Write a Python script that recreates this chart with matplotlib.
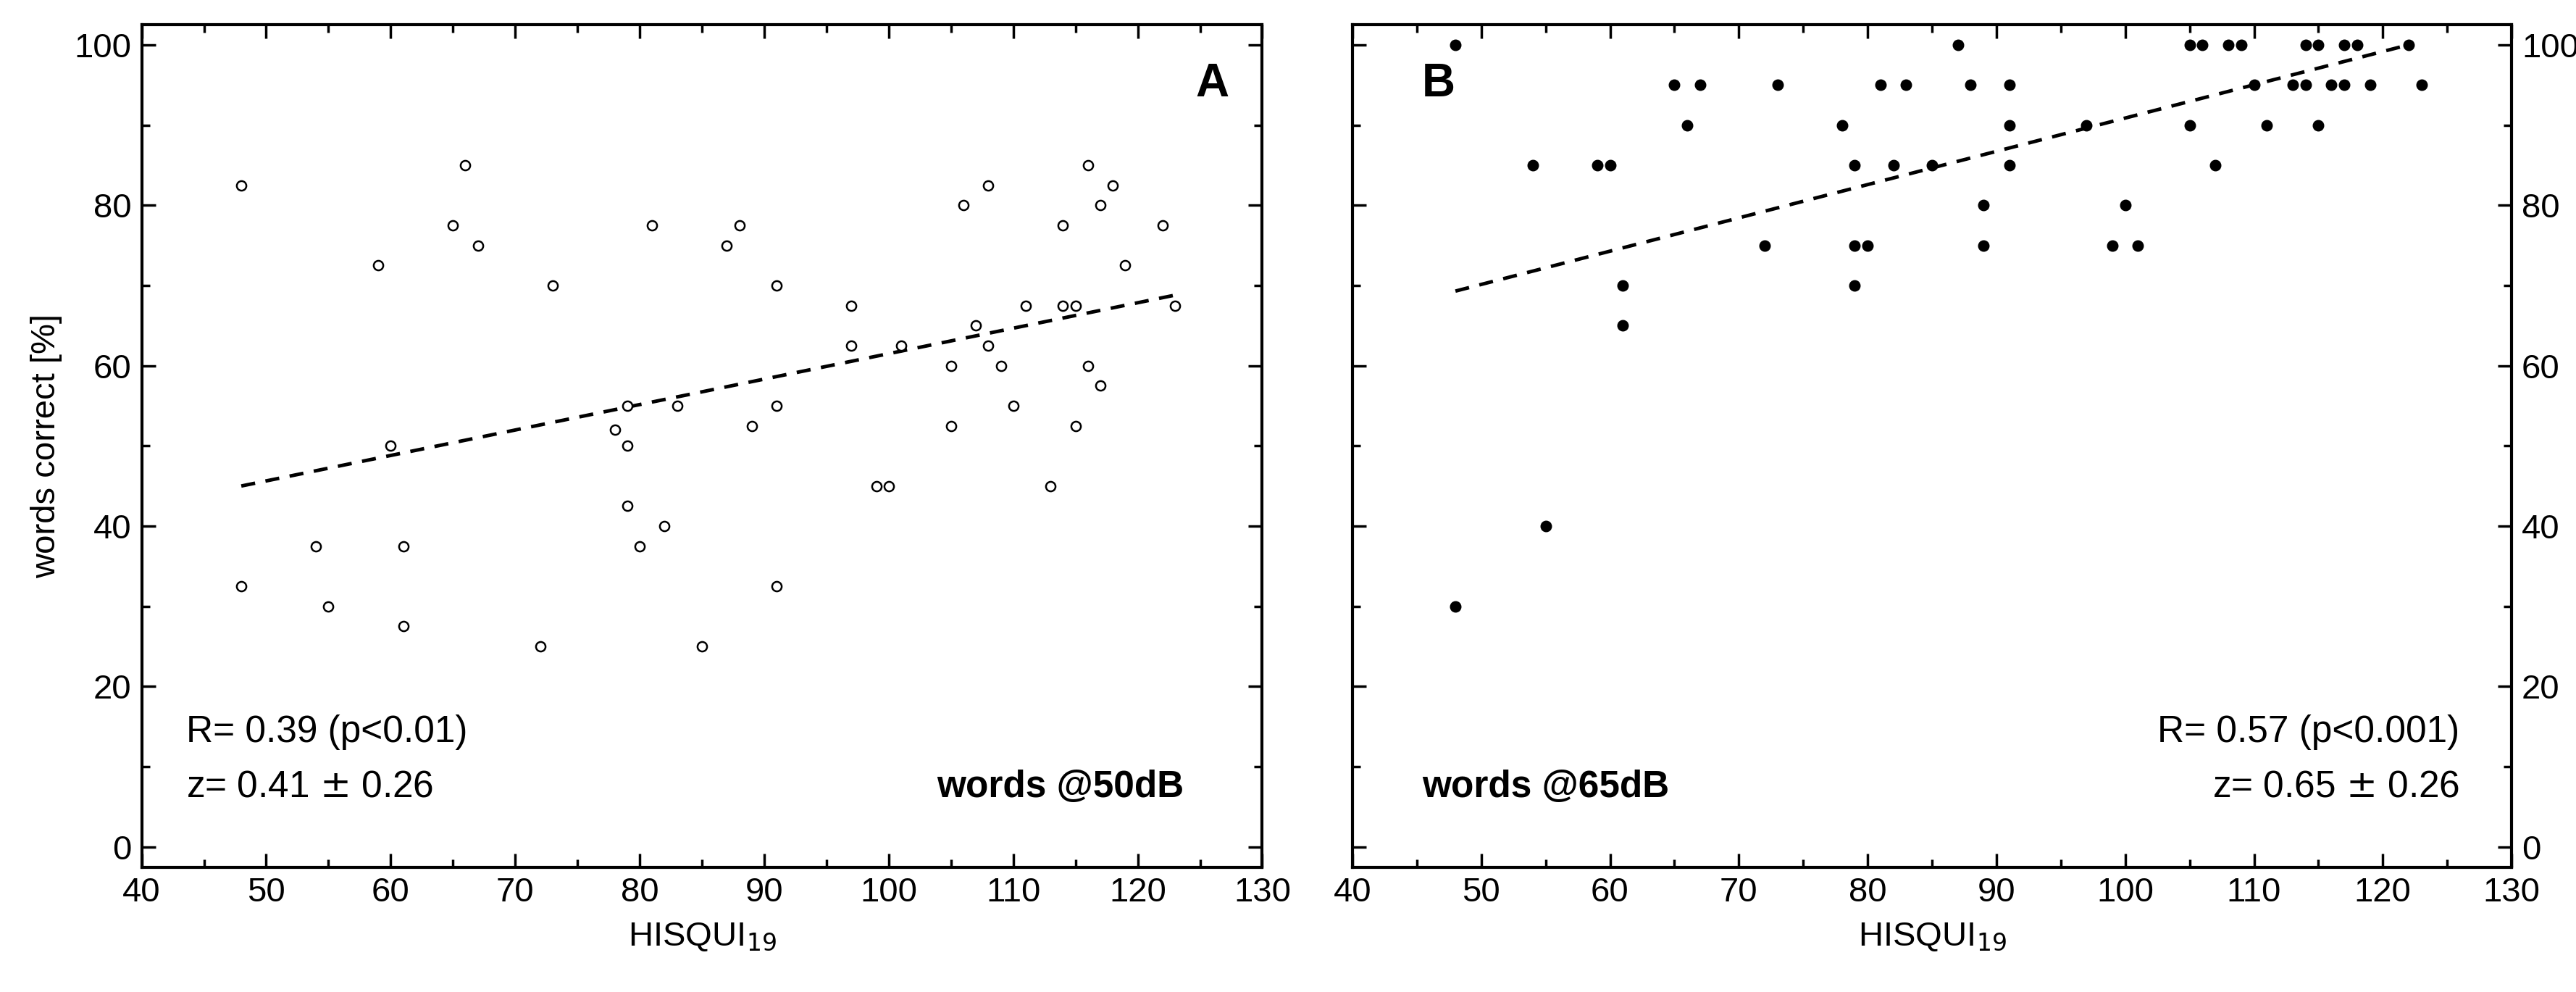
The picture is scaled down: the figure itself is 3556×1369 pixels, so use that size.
import numpy as np
import matplotlib.pyplot as plt
from matplotlib.ticker import MultipleLocator

plt.rcParams['font.family'] = ['Liberation Sans', 'DejaVu Sans']

# panel A: words @50dB
xa = [48, 48, 54, 55, 59, 60, 61, 61, 65, 66, 67, 72, 73, 78, 79, 79, 79, 80, 81, 82, 83, 85,
      87, 88, 89, 91, 91, 91, 97, 97, 99, 100, 101, 105, 105, 106, 107, 108, 108, 109, 110,
      111, 113, 114, 114, 115, 115, 116, 116, 117, 117, 118, 119, 122, 123]
ya = [82.5, 32.5, 37.5, 30, 72.5, 50, 37.5, 27.5, 77.5, 85, 75, 25, 70, 52, 55, 50, 42.5, 37.5,
      77.5, 40, 55, 25, 75, 77.5, 52.5, 70, 55, 32.5, 67.5, 62.5, 45, 45, 62.5, 60, 52.5, 80,
      65, 82.5, 62.5, 60, 55, 67.5, 45, 77.5, 67.5, 67.5, 52.5, 85, 60, 80, 57.5, 82.5, 72.5,
      77.5, 67.5]
fit_a_x = [48, 123]
fit_a_y = [45.0, 68.8]

# panel B: words @65dB
xb = [48, 48, 54, 55, 59, 60, 61, 61, 65, 66, 67, 72, 73, 78, 79, 79, 79, 80, 81, 82, 83, 85,
      87, 88, 89, 89, 91, 91, 91, 97, 99, 100, 101, 105, 105, 106, 107, 108, 109, 110, 111,
      113, 114, 114, 115, 115, 116, 117, 117, 118, 119, 122, 123]
yb = [100, 30, 85, 40, 85, 85, 70, 65, 95, 90, 95, 75, 95, 90, 85, 75, 70, 75, 95, 85, 95, 85,
      100, 95, 80, 75, 95, 90, 85, 90, 75, 80, 75, 100, 90, 100, 85, 100, 100, 95, 90,
      95, 100, 95, 100, 90, 95, 100, 95, 100, 95, 100, 95]
fit_b_x = [48, 122]
fit_b_y = [69.3, 100.0]

fig = plt.figure(figsize=(35.56, 13.69), dpi=100)
axA = fig.add_axes([0.055, 0.126, 0.435, 0.849])
axB = fig.add_axes([0.525, 0.126, 0.45, 0.849])

fs = 34
afs = 37
for ax in (axA, axB):
    ax.set_xlim(40, 130)
    ax.set_ylim(-2.5, 102.5)
    ax.xaxis.set_major_locator(MultipleLocator(10))
    ax.xaxis.set_minor_locator(MultipleLocator(5))
    ax.yaxis.set_major_locator(MultipleLocator(20))
    ax.yaxis.set_minor_locator(MultipleLocator(10))
    ax.tick_params(which='both', direction='in', top=True, right=True, width=2.5, labelsize=fs)
    ax.tick_params(which='major', length=14, pad=10)
    ax.tick_params(which='minor', length=8)
    for s in ax.spines.values():
        s.set_linewidth(3)
    ax.set_xlabel('HISQUI$_{19}$', fontsize=fs, labelpad=12)

axA.scatter(xa, ya, s=90, facecolors='white', edgecolors='black', linewidths=1.8, zorder=3)
axA.plot(fit_a_x, fit_a_y, 'k--', lw=3.5, dashes=(4, 3))
axA.set_ylabel('words correct [%]', fontsize=fs, labelpad=12)
axA.text(0.97, 0.93, 'A', transform=axA.transAxes, fontsize=46, fontweight='bold', ha='right', va='center')
axA.text(0.04, 0.16, 'R= 0.39 (p<0.01)', transform=axA.transAxes, fontsize=afs, va='center')
axA.text(0.04, 0.095, 'z= 0.41 $\\pm$ 0.26', transform=axA.transAxes, fontsize=afs, va='center')
axA.text(0.93, 0.095, 'words @50dB', transform=axA.transAxes, fontsize=afs, fontweight='bold',
         ha='right', va='center')

axB.scatter(xb, yb, s=110, color='black', zorder=3)
axB.plot(fit_b_x, fit_b_y, 'k--', lw=3.5, dashes=(4, 3))
axB.tick_params(axis='y', labelleft=False, labelright=True)
axB.text(0.06, 0.93, 'B', transform=axB.transAxes, fontsize=46, fontweight='bold', ha='left', va='center')
axB.text(0.955, 0.16, 'R= 0.57 (p<0.001)', transform=axB.transAxes, fontsize=afs, ha='right', va='center')
axB.text(0.955, 0.095, 'z= 0.65 $\\pm$ 0.26', transform=axB.transAxes, fontsize=afs, ha='right', va='center')
axB.text(0.06, 0.095, 'words @65dB', transform=axB.transAxes, fontsize=afs, fontweight='bold',
         ha='left', va='center')

fig.savefig('out.png', dpi=100)
